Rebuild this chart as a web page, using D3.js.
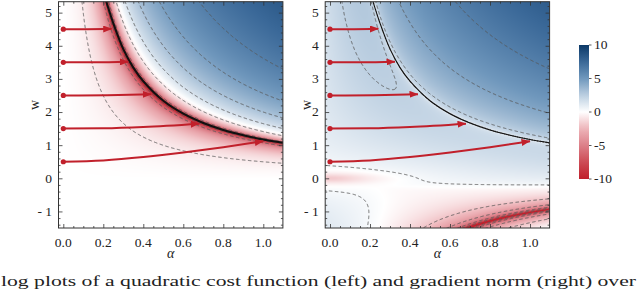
<!DOCTYPE html>
<html>
<head>
<meta charset="utf-8">
<script src="https://cdnjs.cloudflare.com/ajax/libs/d3/7.8.5/d3.min.js"></script>
<style>
  html, body { margin: 0; padding: 0; background: #fff; }
  svg { display: block; }
  text { font-family: "Liberation Serif", "DejaVu Serif", serif; fill: #222; }
</style>
</head>
<body>
<svg id="chart" width="640" height="289"></svg>
<script>
// Data
const xTicks  = [0, 0.2, 0.4, 0.6, 0.8, 1.0];
const yTicks  = [-1, 0, 1, 2, 3, 4, 5];
const cbTicks = [-10, -5, 0, 5, 10];

const colorStops = [-10, -7.5, -5, -2.5, 0, 2.5, 5, 7.5, 10];
const colorHex   = ["#c0202c", "#cd4b55", "#dc7f88", "#eeb4b9", "#ffffff",
                    "#bccfe1", "#7098bd", "#3a6898", "#0c3967"];

// zero-cost curve (black line), alpha / w pairs
const zeroCurveAlpha = [0.215, 0.25, 0.3, 0.35, 0.4, 0.5, 0.6, 0.7, 0.8, 0.9, 1.0, 1.098];
const zeroCurveW     = [5.33, 4.68, 3.9, 3.34, 2.93, 2.34, 1.95, 1.67, 1.46, 1.3, 1.17, 1.07];

// red gradient-flow arrows, [alpha, w] points from start dot to tip
const arrowPaths = [
  [[0, 4.5], [0.12, 4.5], [0.242, 4.51]],
  [[0, 3.5], [0.16, 3.5], [0.325, 3.52]],
  [[0, 2.5], [0.22, 2.51], [0.44, 2.54]],
  [[0, 1.5], [0.2, 1.51], [0.4, 1.55], [0.68, 1.65]],
  [[0, 0.5], [0.2, 0.54], [0.4, 0.64], [0.6, 0.78], [0.8, 0.94], [1.0, 1.12]]
];

// contour levels (dashed)
const leftLevels  = [-9, -6, -0.68, 1.4, 3.05, 4.6, 6.3];
const rightLevels = [-8, -6, -4, -2, 0.3, 2.4, 4.4, 6.3];

const caption = "log plots of a quadratic cost function (left) and gradient norm (right) over";

// model of the two plotted surfaces
const C_ZERO = 1.17;   // alpha*w on the zero-cost curve
const C_NEG  = 1.03;   // alpha*w on the lower-right valley of the gradient plot

function costField(a, w) {
  const t = a * w;
  if (t < C_ZERO) {
    const s = Math.max(t, 0) / C_ZERO;
    return 0.9 * Math.log(1 - s) * (1 + 2 * s * s);
  }
  return 3.0 * Math.log((t - C_ZERO) / 0.3);
}

const sig = z => 1 / (1 + Math.exp(-z));

function gradField(a, w) {
  const t = a * w;
  let v = 0.5 * Math.log(Math.abs(t - C_ZERO) / C_ZERO);
  if (t > 0) v += 3.5 * Math.log(1 + t / 1.5);
  else v += 2.6 * Math.log(Math.abs(t + C_NEG) / C_NEG);
  v += 0.6 * Math.log(Math.sqrt(w * w + a * a + 0.0036) / 0.23);
  v -= 1.0 * Math.exp(-(w * w) / (2 * 0.12 * 0.12) - (a * a) / (2 * 0.2 * 0.2));
  v -= 0.45 * sig((a - 0.25) / 0.06) * sig((-0.25 - w) / 0.05);
  return v;
}

// Layout
const svg = d3.select("#chart");
const TOP = 1.7, BOTTOM = 228, PW = 224.4;
const panels = [
  { x0: 58.5,  field: costField, levels: leftLevels,  curveW: 2,   wLabelX: 34 },
  { x0: 325.2, field: gradField, levels: rightLevels, curveW: 1.1, wLabelX: 306 }
];

const color = d3.scaleLinear().domain(colorStops).range(colorHex)
  .interpolate(d3.interpolateRgb).clamp(true);

const defs = svg.append("defs");
defs.append("marker").attr("id", "arrowHead")
  .attr("markerUnits", "userSpaceOnUse")
  .attr("markerWidth", 9).attr("markerHeight", 7)
  .attr("refX", 8.5).attr("refY", 3.5).attr("orient", "auto")
  .append("path").attr("d", "M0,0L9,3.5L0,7Z").attr("fill", "#c1202b");

const clampV = v => Math.max(-40, Math.min(40, v));

panels.forEach((p, k) => {
  const x = d3.scaleLinear().domain([-0.024, 1.098]).range([p.x0, p.x0 + PW]);
  const y = d3.scaleLinear().domain([-1.5, 5.33]).range([BOTTOM, TOP]);
  const W = PW, H = BOTTOM - TOP;

  const clipId = "clip" + k;
  defs.append("clipPath").attr("id", clipId)
    .append("rect").attr("x", p.x0).attr("y", TOP).attr("width", W).attr("height", H);

  const g = svg.append("g");

  // heat map
  const res = 2;
  const cw = Math.round(W * res), ch = Math.round(H * res);
  const canvas = document.createElement("canvas");
  canvas.width = cw; canvas.height = ch;
  const ctx = canvas.getContext("2d");
  const img = ctx.createImageData(cw, ch);
  for (let j = 0; j < ch; j++) {
    const wv = y.invert(TOP + (j + 0.5) * H / ch);
    for (let i = 0; i < cw; i++) {
      const av = x.invert(p.x0 + (i + 0.5) * W / cw);
      const c = d3.rgb(color(clampV(p.field(av, wv))));
      const o = (j * cw + i) * 4;
      img.data[o] = c.r; img.data[o + 1] = c.g; img.data[o + 2] = c.b; img.data[o + 3] = 255;
    }
  }
  ctx.putImageData(img, 0, 0);
  g.append("image").attr("href", canvas.toDataURL())
    .attr("x", p.x0).attr("y", TOP).attr("width", W).attr("height", H)
    .attr("preserveAspectRatio", "none");

  // contours, grid a bit larger than the frame so borders fall outside the clip
  const ext = 3;
  const gx0 = p.x0 - ext, gy0 = TOP - ext;
  const nx = Math.round((W + 2 * ext) * res), ny = Math.round((H + 2 * ext) * res);
  const values = new Float64Array(nx * ny);
  for (let j = 0; j < ny; j++) {
    const wv = y.invert(gy0 + (j + 0.5) / res);
    for (let i = 0; i < nx; i++) {
      values[j * nx + i] = clampV(p.field(x.invert(gx0 + (i + 0.5) / res), wv));
    }
  }
  const contours = d3.contours().size([nx, ny]).thresholds(p.levels)(values);
  const proj = d3.geoTransform({
    point: function(px, py) { this.stream.point(gx0 + px / res, gy0 + py / res); }
  });
  g.append("g").attr("clip-path", `url(#${clipId})`)
    .selectAll("path").data(contours).join("path")
    .attr("d", d3.geoPath(proj))
    .attr("fill", "none")
    .attr("stroke", "#5a5a5a")
    .attr("stroke-opacity", 0.85)
    .attr("stroke-width", 1)
    .attr("stroke-dasharray", "3.5,2.5");

  // zero curve
  const curve = d3.line().x((d, i) => x(d)).y((d, i) => y(zeroCurveW[i]))
    .curve(d3.curveCatmullRom.alpha(0.5));
  g.append("path").attr("clip-path", `url(#${clipId})`)
    .attr("d", curve(zeroCurveAlpha))
    .attr("fill", "none").attr("stroke", "#111").attr("stroke-width", p.curveW);

  // arrows
  const arrowLine = d3.line().x(d => x(d[0])).y(d => y(d[1])).curve(d3.curveMonotoneX);
  g.selectAll(".arrow").data(arrowPaths).join("path").attr("class", "arrow")
    .attr("d", arrowLine)
    .attr("fill", "none").attr("stroke", "#c1202b").attr("stroke-width", 2)
    .attr("marker-end", "url(#arrowHead)");
  g.selectAll(".dot").data(arrowPaths).join("circle").attr("class", "dot")
    .attr("cx", d => x(d[0][0])).attr("cy", d => y(d[0][1])).attr("r", 2.6)
    .attr("fill", "#c1202b");

  // frame ticks (inward, all four sides)
  const xMinor = d3.range(0.05, 1.09, 0.05).filter(v => Math.abs(v * 5 - Math.round(v * 5)) > 1e-6);
  const yMinor = d3.range(-1.4, 5.3, 0.2).filter(v => Math.abs(v - Math.round(v)) > 1e-6);
  const tickStyle = sel => sel.call(s => s.select(".domain").remove())
    .call(s => s.selectAll("line").attr("stroke", "#333").attr("stroke-width", 0.8));

  const axes = [
    [d3.axisBottom(x), `translate(0,${BOTTOM})`, xTicks, xMinor],
    [d3.axisTop(x), `translate(0,${TOP})`, xTicks, xMinor],
    [d3.axisLeft(y), `translate(${p.x0},0)`, yTicks, yMinor],
    [d3.axisRight(y), `translate(${p.x0 + W},0)`, yTicks, yMinor]
  ];
  axes.forEach(([ax, tr, major, minor]) => {
    g.append("g").attr("transform", tr)
      .call(ax.tickValues(major).tickSize(-4).tickFormat("")).call(tickStyle);
    g.append("g").attr("transform", tr)
      .call(ax.tickValues(minor).tickSize(-2).tickFormat("")).call(tickStyle);
  });

  g.append("rect").attr("x", p.x0).attr("y", TOP).attr("width", W).attr("height", H)
    .attr("fill", "none").attr("stroke", "#333").attr("stroke-width", 1);

  // tick labels
  g.selectAll(".xl").data(xTicks).join("text").attr("class", "xl")
    .attr("x", d => x(d)).attr("y", 246.5).attr("text-anchor", "middle")
    .attr("font-size", "13.5px").text(d3.format(".1f"));
  g.selectAll(".yl").data(yTicks).join("text").attr("class", "yl")
    .attr("x", p.x0 - 6.5).attr("y", d => y(d)).attr("dy", "0.33em")
    .attr("text-anchor", "end").attr("font-size", "13.5px")
    .text(d => d < 0 ? "- " + Math.abs(d) : d);

  g.append("text").attr("x", p.x0 + W / 2).attr("y", 257.5)
    .attr("text-anchor", "middle").attr("font-size", "14px").attr("font-style", "italic")
    .text("α");
  g.append("text").attr("transform", `translate(${p.wLabelX},105) rotate(-90)`)
    .attr("text-anchor", "middle").attr("dy", "0.33em").attr("font-size", "14px")
    .text("w");
});

// colour bar
const cbX = 579, cbW = 10;
const cbY = d3.scaleLinear().domain([-10, 10]).range([179, 45]);
const grad = defs.append("linearGradient").attr("id", "cbGrad")
  .attr("x1", 0).attr("y1", 1).attr("x2", 0).attr("y2", 0);
grad.selectAll("stop").data(d3.range(0, 21)).join("stop")
  .attr("offset", d => d / 20)
  .attr("stop-color", d => color(-10 + d));
svg.append("rect").attr("x", cbX).attr("y", cbY(10)).attr("width", cbW)
  .attr("height", cbY(-10) - cbY(10)).attr("fill", "url(#cbGrad)");
svg.append("g").selectAll("line").data(cbTicks).join("line")
  .attr("x1", cbX + cbW).attr("x2", cbX + cbW + 2.5)
  .attr("y1", d => cbY(d)).attr("y2", d => cbY(d))
  .attr("stroke", "#333").attr("stroke-width", 0.8);
svg.append("g").selectAll("text").data(cbTicks).join("text")
  .attr("x", cbX + cbW + 5).attr("y", d => cbY(d)).attr("dy", "0.33em")
  .attr("font-size", "13.5px").text(d => d);

// caption, kept just inside the bottom edge
svg.append("text").attr("x", 1).attr("y", 285.5)
  .attr("font-size", "15px").attr("textLength", 635).attr("lengthAdjust", "spacingAndGlyphs")
  .attr("fill", "#111")
  .text(caption);
</script>
</body>
</html>
